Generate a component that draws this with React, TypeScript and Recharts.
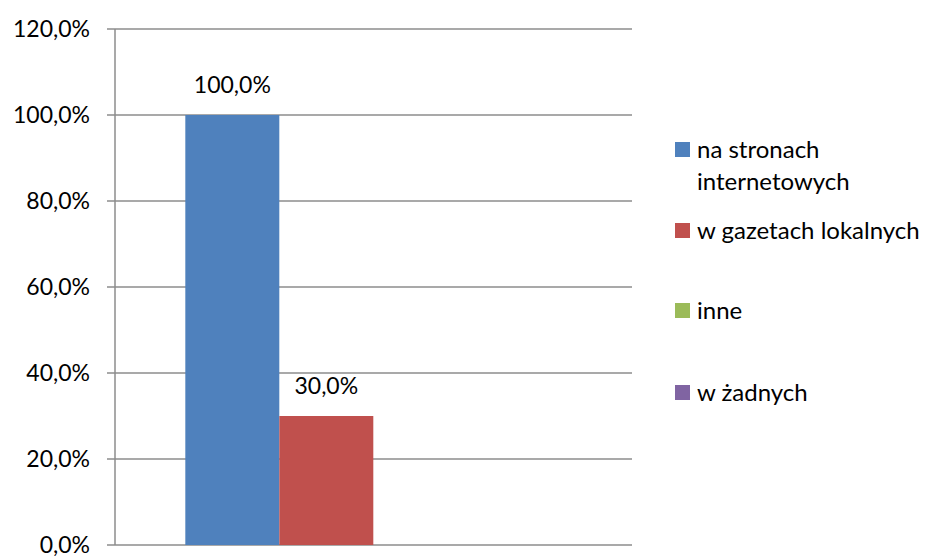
import React from 'react';
import { BarChart, Bar, XAxis, YAxis, CartesianGrid, LabelList } from 'recharts';

const categories = [''];
const seriesNames = ['na stronach internetowych', 'w gazetach lokalnych', 'inne', 'w żadnych'];
const seriesValues = [100, 30, 0, 0];
const seriesColors = ['#4F81BD', '#C0504D', '#9BBB59', '#8064A2'];
const yTicks = [0, 20, 40, 60, 80, 100, 120];

const FONT = 'Lato, "Open Sans", sans-serif';
const GRID = '#8c8c8c';

const chartData = categories.map((c) => {
  const row: Record<string, string | number> = { name: c };
  seriesNames.forEach((s, i) => {
    row[`s${i}`] = seriesValues[i];
  });
  return row;
});

const fmt = (v: number) => `${v.toFixed(1).replace('.', ',')}%`;

// gaps between legend entries, like the Excel layout
const legendGaps = [0, 17, 48, 50];

const LegendBox = () => (
  <div style={{ position: 'absolute', left: 675, top: 133, width: 254, fontFamily: FONT, fontSize: 24, color: '#000' }}>
    {seriesNames.map((name, i) => (
      <div key={name} style={{ display: 'flex', alignItems: 'flex-start', marginTop: legendGaps[i] }}>
        <div style={{ width: 15, height: 15, background: seriesColors[i], marginTop: 9, marginRight: 7, flexShrink: 0 }} />
        <div style={{ width: 232, lineHeight: '32px' }}>{name}</div>
      </div>
    ))}
  </div>
);

const App: React.FC = () => (
  <div style={{ position: 'absolute', left: 0, top: 0, width: 929, height: 556, background: '#fff' }}>
    <BarChart
      width={929}
      height={556}
      data={chartData}
      margin={{ top: 29, right: 297, bottom: 11, left: 0 }}
      barCategoryGap="13.6%"
      barGap={0}
    >
      <CartesianGrid vertical={false} stroke={GRID} strokeWidth={1.5} />
      <XAxis dataKey="name" tick={false} tickLine={false} axisLine={{ stroke: GRID, strokeWidth: 1.5 }} height={0} />
      <YAxis
        width={115}
        domain={[0, 120]}
        ticks={yTicks}
        interval={0}
        tickFormatter={fmt}
        tick={{ fontFamily: FONT, fontSize: 23, fill: '#000' }}
        tickLine={{ stroke: GRID, strokeWidth: 1.5 }}
        tickSize={8}
        tickMargin={17}
        axisLine={{ stroke: GRID, strokeWidth: 1.5 }}
      />
      {seriesNames.map((s, i) => (
        <Bar key={s} dataKey={`s${i}`} name={s} fill={seriesColors[i]} isAnimationActive={false}>
          <LabelList
            dataKey={`s${i}`}
            position="top"
            offset={22}
            formatter={(v: number) => (v > 0 ? fmt(v) : '')}
            style={{ fontFamily: FONT, fontSize: 23, fill: '#000' }}
          />
        </Bar>
      ))}
    </BarChart>
    <LegendBox />
  </div>
);

export default App;
